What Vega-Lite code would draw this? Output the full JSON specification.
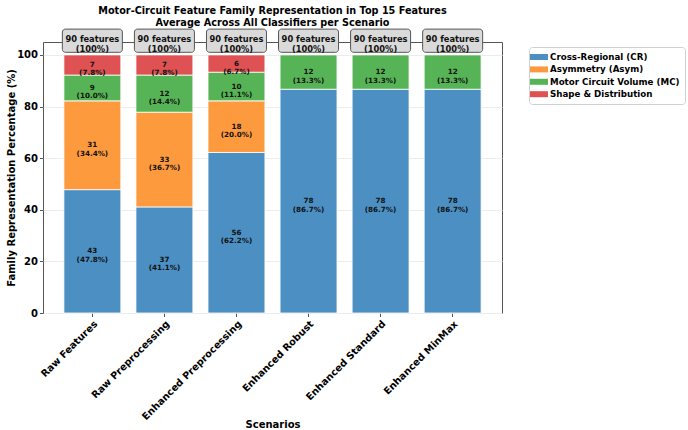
{
  "$schema": "https://vega.github.io/schema/vega-lite/v6.json",
  "autosize": {"type": "none"},
  "width": 459,
  "height": 271,
  "padding": {"left": 43, "top": 42, "right": 186, "bottom": 117},
  "background": "white",
  "config": {
    "font": "DejaVu Sans",
    "view": {"stroke": "#555", "strokeWidth": 1},
    "axis": {"labelFont": "DejaVu Sans", "titleFont": "DejaVu Sans", "labelFontWeight": "bold", "titleFontWeight": "bold", "labelColor": "#000", "titleColor": "#000", "domainColor": "#555", "tickColor": "#555"}
  },
  "title": {
    "text": ["Motor-Circuit Feature Family Representation in Top 15 Features", "Average Across All Classifiers per Scenario"],
    "fontSize": 9.7,
    "fontWeight": "bold",
    "font": "DejaVu Sans",
    "anchor": "middle",
    "lineHeight": 12,
    "offset": 1,
    "color": "#000"
  },
  "datasets": {
    "fam": [
      {"scenario": "Raw Features", "family": "Cross-Regional (CR)", "ord": 1, "count": 43, "pct": 47.8, "label": ["43", "(47.8%)"]},
      {"scenario": "Raw Features", "family": "Asymmetry (Asym)", "ord": 2, "count": 31, "pct": 34.4, "label": ["31", "(34.4%)"]},
      {"scenario": "Raw Features", "family": "Motor Circuit Volume (MC)", "ord": 3, "count": 9, "pct": 10.0, "label": ["9", "(10.0%)"]},
      {"scenario": "Raw Features", "family": "Shape & Distribution", "ord": 4, "count": 7, "pct": 7.8, "label": ["7", "(7.8%)"]},
      {"scenario": "Raw Preprocessing", "family": "Cross-Regional (CR)", "ord": 1, "count": 37, "pct": 41.1, "label": ["37", "(41.1%)"]},
      {"scenario": "Raw Preprocessing", "family": "Asymmetry (Asym)", "ord": 2, "count": 33, "pct": 36.7, "label": ["33", "(36.7%)"]},
      {"scenario": "Raw Preprocessing", "family": "Motor Circuit Volume (MC)", "ord": 3, "count": 12, "pct": 14.4, "label": ["12", "(14.4%)"]},
      {"scenario": "Raw Preprocessing", "family": "Shape & Distribution", "ord": 4, "count": 7, "pct": 7.8, "label": ["7", "(7.8%)"]},
      {"scenario": "Enhanced Preprocessing", "family": "Cross-Regional (CR)", "ord": 1, "count": 56, "pct": 62.2, "label": ["56", "(62.2%)"]},
      {"scenario": "Enhanced Preprocessing", "family": "Asymmetry (Asym)", "ord": 2, "count": 18, "pct": 20.0, "label": ["18", "(20.0%)"]},
      {"scenario": "Enhanced Preprocessing", "family": "Motor Circuit Volume (MC)", "ord": 3, "count": 10, "pct": 11.1, "label": ["10", "(11.1%)"]},
      {"scenario": "Enhanced Preprocessing", "family": "Shape & Distribution", "ord": 4, "count": 6, "pct": 6.7, "label": ["6", "(6.7%)"]},
      {"scenario": "Enhanced Robust", "family": "Cross-Regional (CR)", "ord": 1, "count": 78, "pct": 86.7, "label": ["78", "(86.7%)"]},
      {"scenario": "Enhanced Robust", "family": "Motor Circuit Volume (MC)", "ord": 3, "count": 12, "pct": 13.3, "label": ["12", "(13.3%)"]},
      {"scenario": "Enhanced Standard", "family": "Cross-Regional (CR)", "ord": 1, "count": 78, "pct": 86.7, "label": ["78", "(86.7%)"]},
      {"scenario": "Enhanced Standard", "family": "Motor Circuit Volume (MC)", "ord": 3, "count": 12, "pct": 13.3, "label": ["12", "(13.3%)"]},
      {"scenario": "Enhanced MinMax", "family": "Cross-Regional (CR)", "ord": 1, "count": 78, "pct": 86.7, "label": ["78", "(86.7%)"]},
      {"scenario": "Enhanced MinMax", "family": "Motor Circuit Volume (MC)", "ord": 3, "count": 12, "pct": 13.3, "label": ["12", "(13.3%)"]}
    ],
    "totals": [
      {"scenario": "Raw Features", "label": ["90 features", "(100%)"]},
      {"scenario": "Raw Preprocessing", "label": ["90 features", "(100%)"]},
      {"scenario": "Enhanced Preprocessing", "label": ["90 features", "(100%)"]},
      {"scenario": "Enhanced Robust", "label": ["90 features", "(100%)"]},
      {"scenario": "Enhanced Standard", "label": ["90 features", "(100%)"]},
      {"scenario": "Enhanced MinMax", "label": ["90 features", "(100%)"]}
    ]
  },
  "encoding": {
    "x": {
      "field": "scenario", "type": "nominal",
      "sort": ["Raw Features", "Raw Preprocessing", "Enhanced Preprocessing", "Enhanced Robust", "Enhanced Standard", "Enhanced MinMax"],
      "scale": {"paddingInner": 0.21, "paddingOuter": 0.29},
      "axis": {"title": "Scenarios", "labelAngle": -45, "labelAlign": "right", "labelBaseline": "top", "labelFontSize": 9.8, "titleFontSize": 10, "titleY": 111, "titleBaseline": "middle", "tickSize": 3.5, "labelPadding": 2, "domain": false}
    }
  },
  "layer": [
    {
      "data": {"name": "fam"},
      "mark": {"type": "rule", "strokeDash": [2, 2], "color": "#aaa", "strokeWidth": 1},
      "encoding": {"y": {"datum": 100}}
    },
    {
      "data": {"name": "fam"},
      "transform": [
        {"stack": "pct", "groupby": ["scenario"], "sort": [{"field": "ord", "order": "ascending"}], "as": ["y0", "y1"]}
      ],
      "mark": {"type": "bar", "stroke": "white", "strokeWidth": 0.8},
      "encoding": {
        "y": {"field": "y0", "type": "quantitative",
          "scale": {"domain": [0, 105], "nice": false},
          "axis": {"title": "Family Representation Percentage (%)", "values": [0, 20, 40, 60, 80, 100], "grid": true, "gridColor": "#ececec", "labelFontSize": 10, "titleFontSize": 10, "titleX": -27, "tickSize": 3.5, "labelPadding": 2, "domain": false}},
        "y2": {"field": "y1"},
        "color": {"field": "family", "type": "nominal",
          "scale": {"domain": ["Cross-Regional (CR)", "Asymmetry (Asym)", "Motor Circuit Volume (MC)", "Shape & Distribution"], "range": ["#4b8fc3", "#fe9a3e", "#57b456", "#de5253"]},
          "legend": {"title": null, "orient": "none", "legendX": 486, "legendY": 5, "strokeColor": "#d0d0d0", "fillColor": "white", "cornerRadius": 3, "padding": 5, "labelFontSize": 8.7, "labelFontWeight": "bold", "labelColor": "#000", "labelFont": "DejaVu Sans", "symbolType": "M-1.8,-0.6H1.8V0.6H-1.8Z", "symbolSize": 100, "symbolStrokeWidth": 0, "symbolOpacity": 1, "rowPadding": 2.4, "labelOffset": 6}}
      }
    },
    {
      "data": {"name": "fam"},
      "transform": [
        {"stack": "pct", "groupby": ["scenario"], "sort": [{"field": "ord", "order": "ascending"}], "as": ["y0", "y1"]},
        {"fold": ["y0", "y1"], "as": ["edge", "edgeValue"]},
        {"aggregate": [{"op": "mean", "field": "edgeValue", "as": "mid"}], "groupby": ["scenario", "family", "label"]}
      ],
      "mark": {"type": "text", "fontSize": 7.2, "fontWeight": "bold", "lineHeight": 8.5, "color": "#111", "baseline": "middle"},
      "encoding": {
        "y": {"field": "mid", "type": "quantitative"},
        "text": {"field": "label"}
      }
    },
    {
      "data": {"name": "totals"},
      "mark": {"type": "bar", "width": 60, "fill": "#dadada", "stroke": "#555", "strokeWidth": 1, "cornerRadius": 3},
      "encoding": {"y": {"datum": 101}, "y2": {"datum": 110}}
    },
    {
      "data": {"name": "totals"},
      "mark": {"type": "text", "fontSize": 8.3, "fontWeight": "bold", "lineHeight": 9.5, "color": "#111", "baseline": "middle"},
      "encoding": {"y": {"datum": 105.6}, "text": {"field": "label"}}
    }
  ]
}
